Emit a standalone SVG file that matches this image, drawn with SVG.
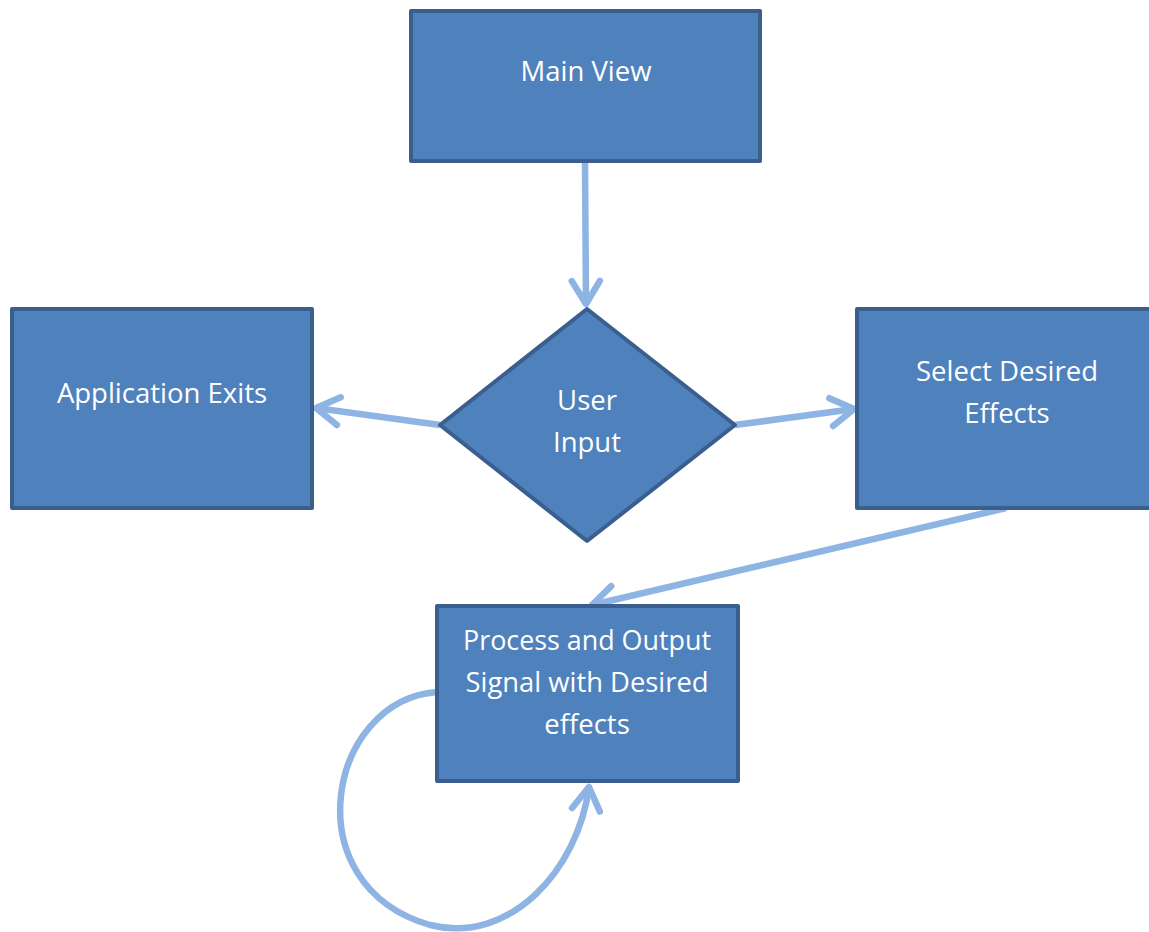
<svg xmlns="http://www.w3.org/2000/svg" width="1149" height="932" viewBox="0 0 1149 932">
  <style>
    .shape { fill: #4f81bd; stroke: #3a5f8e; stroke-width: 4; stroke-linejoin: round; }
    .label { fill: #ffffff; font-family: "Open Sans", "DejaVu Sans", sans-serif; font-size: 27.5px; text-anchor: middle; }
    .link { fill: none; stroke: #8eb4e3; stroke-width: 6.5; }
  </style>
  <defs>
    <marker id="open-arrow" markerUnits="userSpaceOnUse" markerWidth="40" markerHeight="40" viewBox="-30 -20 36 40" refX="0" refY="0" orient="auto" overflow="visible">
      <path d="M -23 -14 L 0 0 L -23 14" fill="none" stroke="#8eb4e3" stroke-width="6.5" stroke-linecap="round" stroke-linejoin="round"/>
    </marker>
  </defs>
  <rect width="1149" height="932" fill="#ffffff"/>

  <g id="connectors">
    <path class="link" d="M 585 163 L 586 304" marker-end="url(#open-arrow)"/>
    <path class="link" d="M 440 425 L 316 408" marker-end="url(#open-arrow)"/>
    <path class="link" d="M 735 425 L 854 409" marker-end="url(#open-arrow)"/>
    <path class="link" d="M 1006 508 L 592 605" marker-end="url(#open-arrow)"/>
    <path class="link" d="M 437 692 C 328 700 292 885 430 925 C 510 945 578 870 589 787" marker-end="url(#open-arrow)"/>
  </g>

  <g id="main-view">
    <rect class="shape" x="411" y="11" width="349" height="150"/>
    <text class="label" x="586" y="81">Main View</text>
  </g>

  <g id="user-input">
    <polygon class="shape" points="587,309 735,425 587,541 440,425"/>
    <text class="label" x="587" y="410">User</text>
    <text class="label" x="587" y="452">Input</text>
  </g>

  <g id="application-exits">
    <rect class="shape" x="12" y="309" width="300" height="199"/>
    <text class="label" x="162" y="403">Application Exits</text>
  </g>

  <g id="select-effects">
    <rect class="shape" x="857" y="309" width="300" height="199"/>
    <text class="label" x="1007" y="381">Select Desired</text>
    <text class="label" x="1007" y="423">Effects</text>
  </g>

  <g id="process-output">
    <rect class="shape" x="437" y="606" width="301" height="175"/>
    <text class="label" x="587" y="650" textLength="248" lengthAdjust="spacingAndGlyphs">Process and Output</text>
    <text class="label" x="587" y="692" textLength="243" lengthAdjust="spacingAndGlyphs">Signal with Desired</text>
    <text class="label" x="587" y="734">effects</text>
  </g>
</svg>
